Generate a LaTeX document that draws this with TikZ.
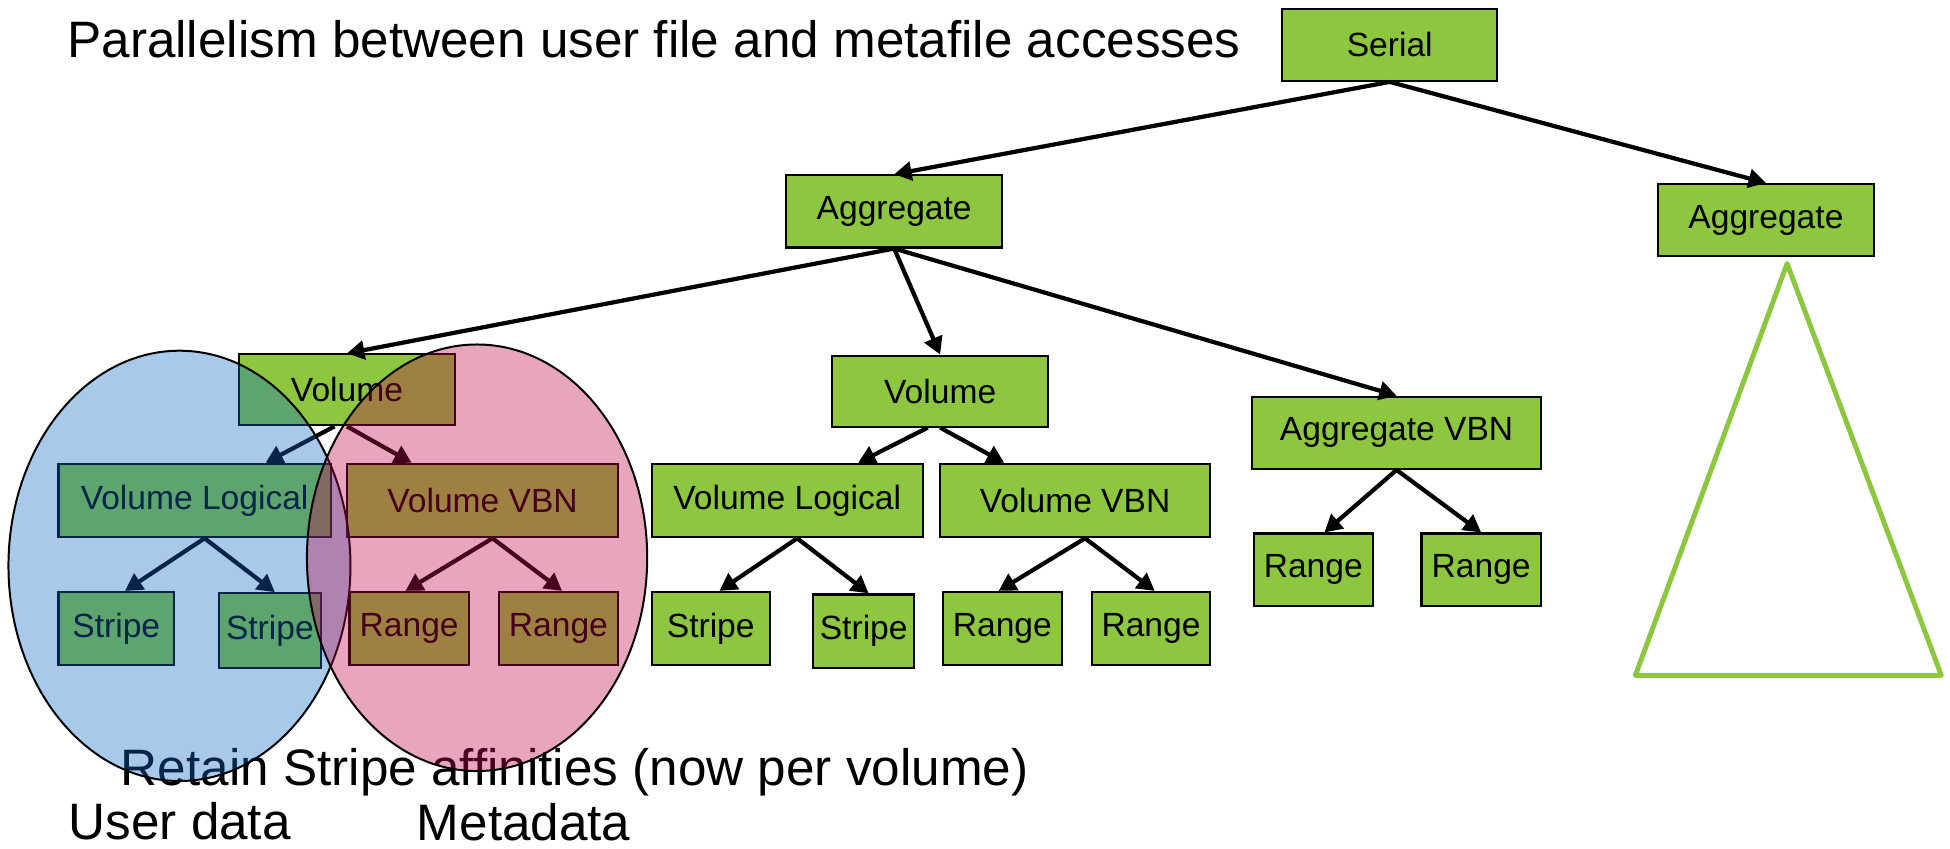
\documentclass[tikz,border=0pt]{standalone}
\usepackage{fontspec}
\setmainfont{Liberation Sans}
\usetikzlibrary{arrows.meta}

\definecolor{boxgreen}{RGB}{141,198,63}
\definecolor{userblue}{RGB}{10,105,197}
\definecolor{metapink}{RGB}{192,5,75}

\begin{document}
\begin{tikzpicture}[x=1pt,y=-1pt,
  blk/.style={draw=black, line width=1.7pt, fill=boxgreen, inner sep=0pt,
    minimum height=58pt, font=\fontsize{27}{32}\selectfont},
  conn/.style={line width=3.4pt, -{Triangle[length=14pt,width=15pt]}},
  big/.style={anchor=base west, inner sep=0pt, font=\fontsize{41.2}{49}\selectfont},
  blob/.style={draw=black, line width=1.6pt, fill opacity=0.36},
]
\useasboundingbox (0,0) rectangle (1568,682);

% heading
\node[big] (title) at (54,46) {Parallelism between user file and metafile accesses};

% upper levels
\node[blk, minimum width=173pt] (serial) at (1117.5,36) {Serial};
\node[blk, minimum width=174pt] (aggm) at (719,170) {Aggregate};
\node[blk, minimum width=174pt] (aggr) at (1420,177) {Aggregate};

% left volume subtree
\node[blk, minimum width=174pt, minimum height=57pt] (voll) at (279,313.5) {Volume};
\node[blk, minimum width=219pt, minimum height=59pt] (vlogl) at (156.5,402.5) {Volume Logical};
\node[blk, minimum width=218pt, minimum height=59pt] (vvbnl) at (388,402.5) {Volume VBN};
\node[blk, minimum width=93pt, minimum height=59pt] (stla) at (93.5,505.5) {Stripe};
\node[blk, minimum width=82pt, minimum height=60pt] (stlb) at (217,507) {Stripe};
\node[blk, minimum width=96pt, minimum height=59pt] (rgla) at (329,505.5) {Range};
\node[blk, minimum width=96pt, minimum height=59pt] (rglb) at (449,505.5) {Range};

% middle volume subtree
\node[blk, minimum width=174pt, minimum height=57pt] (volm) at (756,314.5) {Volume};
\node[blk, minimum width=218pt, minimum height=59pt] (vlogm) at (633,402.5) {Volume Logical};
\node[blk, minimum width=217pt, minimum height=59pt] (vvbnm) at (864.5,402.5) {Volume VBN};
\node[blk, minimum width=95pt, minimum height=59pt] (stma) at (571.5,505.5) {Stripe};
\node[blk, minimum width=81pt, minimum height=59pt] (stmb) at (694.5,507.5) {Stripe};
\node[blk, minimum width=96pt, minimum height=59pt] (rgma) at (806,505.5) {Range};
\node[blk, minimum width=95pt, minimum height=59pt] (rgmb) at (925.5,505.5) {Range};

% aggregate VBN subtree
\node[blk, minimum width=232pt] (aggvbn) at (1123,348) {Aggregate VBN};
\node[blk, minimum width=96pt] (rgra) at (1056,458) {Range};
\node[blk, minimum width=96pt] (rgrb) at (1191,458) {Range};

% collapsed second aggregate
\coordinate (tapex) at (1437,212);
\coordinate (tleft) at (1315,543);
\coordinate (tright) at (1561,543);
\draw[boxgreen, line width=4pt, line join=round] (tapex) -- (tleft) -- (tright) -- cycle;

% connectors
\draw[conn] (serial.south) -- (aggm.north);
\draw[conn] (serial.south) -- (aggr.north);
\draw[conn] (aggm.south) -- (voll.north);
\draw[conn] (aggm.south) -- (volm.north);
\draw[conn] (aggm.south) -- (aggvbn.north);

\draw[conn] ([xshift=-10pt]voll.south) -- ([xshift=57pt]vlogl.north);
\draw[conn] (voll.south) -- ([xshift=-57pt]vvbnl.north);
\draw[conn] ([xshift=8pt]vlogl.south) -- ([xshift=7pt]stla.north);
\draw[conn] ([xshift=8pt]vlogl.south) -- ([xshift=4pt]stlb.north);
\draw[conn] ([xshift=8pt]vvbnl.south) -- ([xshift=-3pt]rgla.north);
\draw[conn] ([xshift=8pt]vvbnl.south) -- ([xshift=3pt]rglb.north);

\draw[conn] ([xshift=-10pt]volm.south) -- ([xshift=57pt]vlogm.north);
\draw[conn] (volm.south) -- ([xshift=-57pt]vvbnm.north);
\draw[conn] ([xshift=8pt]vlogm.south) -- ([xshift=7pt]stma.north);
\draw[conn] ([xshift=8pt]vlogm.south) -- ([xshift=4pt]stmb.north);
\draw[conn] ([xshift=8pt]vvbnm.south) -- ([xshift=-3pt]rgma.north);
\draw[conn] ([xshift=8pt]vvbnm.south) -- ([xshift=3pt]rgmb.north);

\draw[conn] (aggvbn.south) -- ([xshift=9pt]rgra.north);
\draw[conn] (aggvbn.south) -- (rgrb.north);

% caption beneath the left subtree (sits under the shaded regions)
\node[big] (retain) at (97,632) {Retain Stripe affinities (now per volume)};

% shaded regions: user data and metadata
\path[blob, fill=userblue] (144.3,455) ellipse [x radius=137.5pt, y radius=173pt];
\path[blob, fill=metapink] (383.6,448.5) ellipse [x radius=136.8pt, y radius=171.5pt];

\node[big] (user) at (55,675) {User data};
\node[big] (meta) at (335,676) {Metadata};
\end{tikzpicture}
\end{document}
